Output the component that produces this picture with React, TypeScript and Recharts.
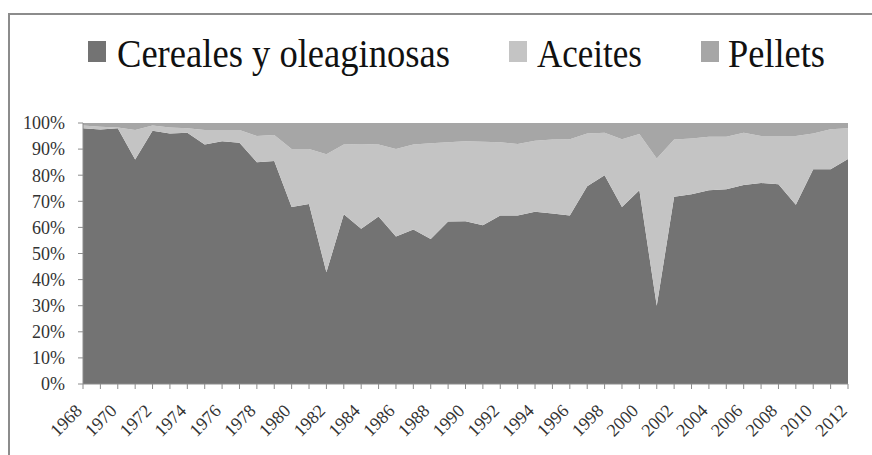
import React from 'react';
import { AreaChart, Area, XAxis, YAxis } from 'recharts';

const years = [
  '1968', '1969', '1970', '1971', '1972', '1973', '1974', '1975', '1976', '1977',
  '1978', '1979', '1980', '1981', '1982', '1983', '1984', '1985', '1986', '1987',
  '1988', '1989', '1990', '1991', '1992', '1993', '1994', '1995', '1996', '1997',
  '1998', '1999', '2000', '2001', '2002', '2003', '2004', '2005', '2006', '2007',
  '2008', '2009', '2010', '2011', '2012',
];

// shares (%)
const cereales = [
  98, 97.5, 98, 86, 97, 96, 96.3, 91.8, 93, 92.4,
  85, 85.4, 67.8, 69, 42.8, 65, 59.5, 64.2, 56.5, 59.2,
  55.6, 62.3, 62.4, 60.8, 64.6, 64.6, 66, 65.3, 64.6, 75.8,
  80, 67.8, 74.2, 30, 71.7, 72.7, 74.2, 74.6, 76.2, 77,
  76.5, 68.7, 82.3, 82.3, 86.2,
];

const aceites = [
  1, 1.1, 0.3, 11.3, 2, 2.3, 1.7, 5.5, 4.3, 4.9,
  10, 10, 22.2, 21, 45.2, 26.8, 32.5, 27.6, 33.5, 32.6,
  36.6, 30.3, 30.6, 32, 28, 27.4, 27.2, 28.4, 29.2, 20.2,
  16.3, 26, 21.6, 56.4, 22, 21.4, 20.5, 20.1, 20.1, 18,
  18.5, 26.3, 13.7, 15.3, 11.8,
];

const pellets = [
  1, 1.4, 1.7, 2.7, 1, 1.7, 2, 2.7, 2.7, 2.7,
  5, 4.6, 10, 10, 12, 8.2, 8, 8.2, 10, 8.2,
  7.8, 7.4, 7, 7.2, 7.4, 8, 6.8, 6.3, 6.2, 4,
  3.7, 6.2, 4.2, 13.6, 6.3, 5.9, 5.3, 5.3, 3.7, 5,
  5, 5, 4, 2.4, 2,
];

const percentTicks = [0, 0.1, 0.2, 0.3, 0.4, 0.5, 0.6, 0.7, 0.8, 0.9, 1];

const series = [
  { key: 'cereales', name: 'Cereales y oleaginosas', color: '#737373' },
  { key: 'aceites', name: 'Aceites', color: '#c4c4c4' },
  { key: 'pellets', name: 'Pellets', color: '#a6a6a6' },
];

const chartData = years.map((year, i) => ({
  year,
  cereales: cereales[i],
  aceites: aceites[i],
  pellets: pellets[i],
}));

const serif = '"Liberation Serif", "DejaVu Serif", serif';

// legend layout: square x, text x, text width
const legendSlots = [
  { boxX: 88, textX: 117, textW: 333 },
  { boxX: 509, textX: 537, textW: 105 },
  { boxX: 701, textX: 728, textW: 97 },
];

const YearTick = (props: any) => {
  const { x, y, payload } = props;
  if (Number(payload.value) % 2 !== 0) return <g />;
  return (
    <text
      x={x}
      y={y}
      transform={`rotate(-45, ${x}, ${y})`}
      textAnchor="end"
      fontFamily={serif}
      fontSize={18}
      fill="#333"
    >
      {payload.value}
    </text>
  );
};

export default function App() {
  return (
    <div style={{ position: 'absolute', left: 0, top: 0, width: 872, height: 455, overflow: 'hidden', background: '#fff' }}>
      {/* frame */}
      <div
        style={{
          position: 'absolute',
          left: 8,
          top: 13,
          width: 900,
          height: 500,
          border: '2px solid #8c8c8c',
        }}
      />

      {/* Legend */}
      <svg style={{ position: 'absolute', left: 0, top: 0 }} width={872} height={100}>
        {series.map((s, i) => (
          <g key={s.key}>
            <rect x={legendSlots[i].boxX} y={41} width={18} height={21} fill={s.color} />
            <text
              x={legendSlots[i].textX}
              y={67}
              fontFamily={serif}
              fontSize={40}
              fill="#111"
              textLength={legendSlots[i].textW}
              lengthAdjust="spacingAndGlyphs"
            >
              {s.name}
            </text>
          </g>
        ))}
      </svg>

      <div style={{ position: 'absolute', left: 0, top: 0 }}>
        <AreaChart
          width={872}
          height={455}
          data={chartData}
          stackOffset="expand"
          margin={{ top: 123, right: 24, bottom: 0, left: 0 }}
        >
          <XAxis
            dataKey="year"
            interval={0}
            height={71}
            tickSize={5}
            tickMargin={23}
            tick={<YearTick />}
            axisLine={{ stroke: '#8c8c8c' }}
            tickLine={{ stroke: '#8c8c8c' }}
          />
          <YAxis
            width={83}
            domain={[0, 1]}
            ticks={percentTicks}
            tickFormatter={(v: number) => `${Math.round(v * 100)}%`}
            tickSize={5}
            tickMargin={13}
            axisLine={{ stroke: '#8c8c8c' }}
            tickLine={{ stroke: '#8c8c8c' }}
            tick={{ fontFamily: serif, fontSize: 18, fill: '#333' }}
          />
          {series.map(s => (
            <Area
              key={s.key}
              type="linear"
              dataKey={s.key}
              name={s.name}
              stackId="1"
              stroke="none"
              fill={s.color}
              fillOpacity={1}
              dot={false}
              activeDot={false}
              isAnimationActive={false}
            />
          ))}
        </AreaChart>
      </div>
    </div>
  );
}
